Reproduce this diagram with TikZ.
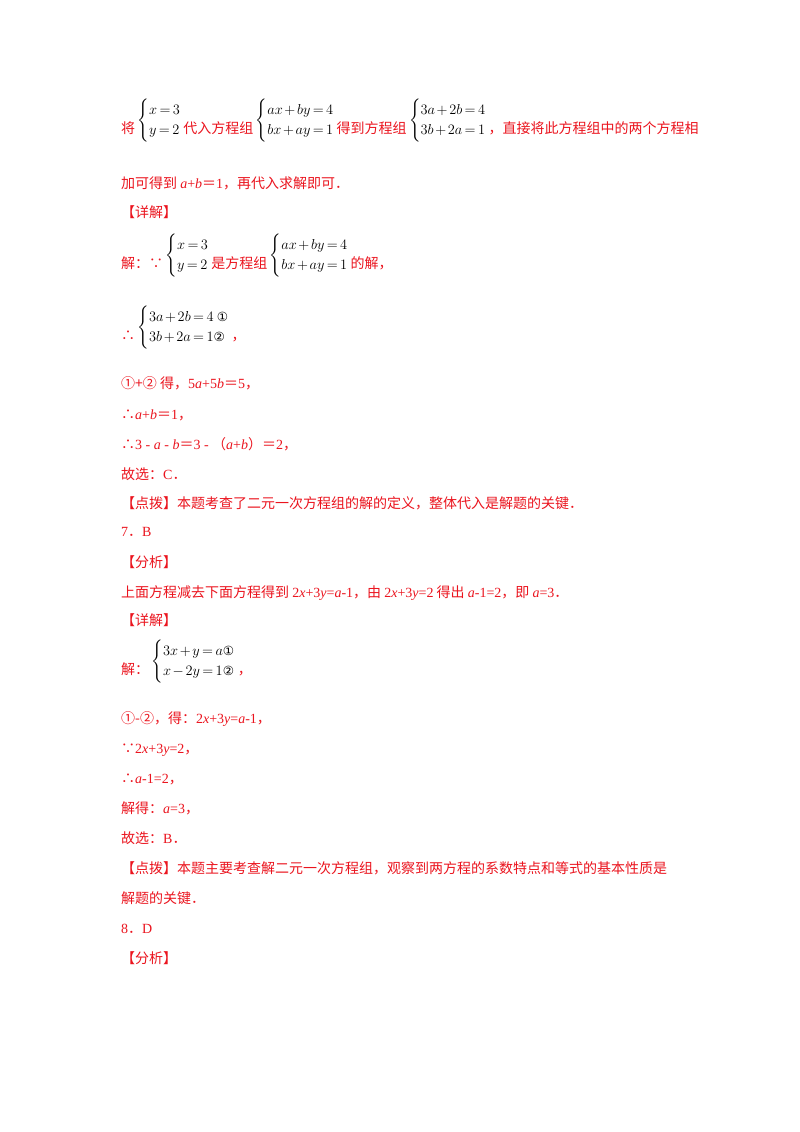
\documentclass[tikz,border=0pt]{standalone}
\usepackage{amsmath}
\usepackage{fontspec}
\setmainfont{Liberation Serif}
\newfontfamily\cjk{Noto Sans CJK SC}
\definecolor{rd}{RGB}{235,20,30}
\newcommand{\sys}[2]{\,\raisebox{9pt}{\color{black}\fontsize{14}{16}\selectfont\medmuskip=2mu\thickmuskip=3mu$\left\{\renewcommand{\arraystretch}{1.28}\begin{array}{@{}l@{}}#1\\#2\end{array}\right.$}\,}
\newcommand{\ci}[1]{\textcolor{black}{\fontspec{DejaVu Sans}\scalebox{0.9}{#1}}}
\newcommand{\vi}[1]{{\rmfamily\textit{#1}}}
\newcommand{\vr}[1]{{\rmfamily #1}}
\begin{document}
\begin{tikzpicture}[x=1pt,y=-1pt,
 ln/.style={anchor=base west,inner sep=0pt,text=rd,font=\fontsize{14}{16}\selectfont}]
\useasboundingbox[fill=white] (0,0) rectangle (800,1132);
\node[ln] (l1) at (121,133) {\cjk 将\sys{x=3}{y=2}\cjk 代入方程组\sys{ax+by=4}{bx+ay=1}\cjk 得到方程组\sys{3a+2b=4}{3b+2a=1}\cjk ，直接将此方程组中的两个方程相};
\node[ln] (l2) at (121,188) {\cjk 加可得到 \vi{a}\vr{+}\vi{b}＝\vr{1}，再代入求解即可．};
\node[ln] (l3) at (121,217) {\cjk 【详解】};
\node[ln] (l4) at (121,268) {\cjk 解：∵\sys{x=3}{y=2}\cjk 是方程组\sys{ax+by=4}{bx+ay=1}\cjk 的解，};
\node[ln] (l5) at (121,340) {\cjk ∴\sys{3a+2b=4\ \text{\ci{①}}}{3b+2a=1\text{\ci{②}}}\cjk ，};
\node[ln] (l6) at (121,388) {\cjk ①+② 得，\vr{5}\vi{a}\vr{+5}\vi{b}＝\vr{5}，};
\node[ln] (l7) at (121,419) {\cjk ∴\vi{a}\vr{+}\vi{b}＝\vr{1}，};
\node[ln] (l8) at (121,449) {\cjk ∴\vr{3 - }\vi{a}\vr{ - }\vi{b}＝\vr{3 - }（\vi{a}\vr{+}\vi{b}）＝\vr{2}，};
\node[ln] (l9) at (121,479) {\cjk 故选：\vr{C}．};
\node[ln] (l10) at (121,508) {\cjk 【点拨】本题考查了二元一次方程组的解的定义，整体代入是解题的关键．};
\node[ln] (l11) at (121,536) {\cjk \vr{7}．\vr{B}};
\node[ln] (l12) at (121,567) {\cjk 【分析】};
\node[ln] (l13) at (121,597) {\cjk 上面方程减去下面方程得到 \vr{2}\vi{x}\vr{+3}\vi{y}\vr{=}\vi{a}\vr{-1}，由 \vr{2}\vi{x}\vr{+3}\vi{y}\vr{=2} 得出 \vi{a}\vr{-1=2}，即 \vi{a}\vr{=3}．};
\node[ln] (l14) at (121,625) {\cjk 【详解】};
\node[ln] (l15) at (121,674) {\cjk 解：\sys{3x+y=a\text{\ci{①}}}{x-2y=1\text{\ci{②}}}\cjk ，};
\node[ln] (l16) at (121,723) {\cjk ①-②，得：\vr{2}\vi{x}\vr{+3}\vi{y}\vr{=}\vi{a}\vr{-1}，};
\node[ln] (l17) at (121,753) {\cjk ∵\vr{2}\vi{x}\vr{+3}\vi{y}\vr{=2}，};
\node[ln] (l18) at (121,783) {\cjk ∴\vi{a}\vr{-1=2}，};
\node[ln] (l19) at (121,813) {\cjk 解得：\vi{a}\vr{=3}，};
\node[ln] (l20) at (121,843) {\cjk 故选：\vr{B}．};
\node[ln] (l21) at (121,873) {\cjk 【点拨】本题主要考查解二元一次方程组，观察到两方程的系数特点和等式的基本性质是};
\node[ln] (l22) at (121,903) {\cjk 解题的关键．};
\node[ln] (l23) at (121,933) {\cjk \vr{8}．\vr{D}};
\node[ln] (l24) at (121,963) {\cjk 【分析】};
\end{tikzpicture}
\end{document}
